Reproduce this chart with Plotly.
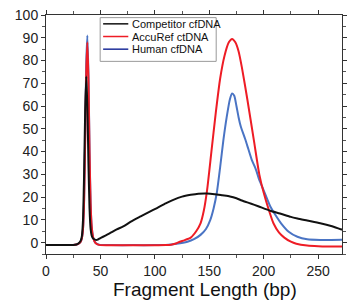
import plotly.graph_objects as go

# ---- data ----
competitor_x = [0, 10, 20, 25, 28, 30, 32, 33, 34, 35, 36, 37, 38, 39, 40, 41, 42, 43, 45, 47,
                50, 55, 60, 65, 71, 78, 87, 95, 102, 110, 117, 125, 133, 140, 148, 155, 162,
                169, 175, 180, 188, 195, 206, 215, 225, 231, 240, 252, 262, 272, 275]
competitor_y = [-1, -1, -1, -1, -0.8, -0.3, 1, 3, 10, 30, 58, 73, 60, 35, 15, 6, 3, 2, 1.3, 1.2,
                2, 3.2, 4.5, 5.8, 7.1, 9.2, 11.5, 13.5, 15.2, 17.2, 18.8, 20.2, 21, 21.5, 21.6,
                21.3, 20.8, 20.3, 19.5, 18.5, 17.2, 16, 14, 12.8, 11.3, 10.6, 9.7, 8.5, 7.3, 5.7, 5.3]

accuref_x = [0, 10, 20, 25, 28, 30, 32, 33, 34, 35, 36, 37, 38, 39, 40, 41, 42, 43, 44, 45, 46,
             48, 50, 60, 80, 100, 110, 115, 120, 123, 127, 133, 138, 142, 145, 148, 152, 156,
             160, 164, 168, 171, 174, 177, 180, 185, 191, 196, 200, 205, 209, 214, 219, 225,
             230, 240, 250, 260, 275]
accuref_y = [-1, -1, -1, -1, -0.8, -0.5, 0.5, 2, 6, 18, 45, 75, 88, 72, 40, 17, 7, 3, 1.2, 0.2, -0.4,
             -0.9, -1.1, -1.2, -1.2, -1.2, -1.1, -0.9, -0.3, 0.4, 1, 2.2, 5, 8.5, 14, 23, 40, 57,
             72, 82, 88, 89.5, 88, 84, 77, 63, 45, 30, 22, 14, 8.5, 4.5, 2.2, 0.4,
             -0.5, -1.3, -1.6, -1.7, -1.7]

human_x = [0, 10, 20, 25, 28, 30, 32, 33, 34, 35, 36, 37, 38, 39, 40, 41, 42, 43, 44, 45, 46,
           48, 50, 60, 80, 100, 110, 120, 130, 136, 142, 147, 151, 154, 157, 160, 163, 166,
           169, 171, 173, 175, 177, 179, 183, 186, 189, 193, 196, 200, 206, 211, 216, 223,
           231, 240, 252, 262, 275]
human_y = [-1, -1, -1, -1, -0.8, -0.5, 0.5, 2, 6, 19, 48, 79, 91, 74, 41, 17, 7, 3, 1.2, 0.2, -0.3,
           -0.8, -1, -1.1, -1.1, -1.1, -1, -0.5, 0.4, 1.5, 3.4, 6, 10, 15, 22, 33, 45, 55,
           63, 65.5, 64.5, 60, 55, 51, 45.5, 41, 36.5, 32, 27.5, 23, 16, 12, 8.5, 4.8,
           2.6, 1.5, 1.2, 1.2, 1.3]

series_names = ["Competitor cfDNA", "AccuRef ctDNA", "Human cfDNA"]
series_colors = ["#111111", "#ee1c25", "#4a74c4"]
legend_colors = ["#111111", "#ee1c25", "#1f2f9a"]

x_ticks = [0, 50, 100, 150, 200, 250]
y_ticks = [0, 10, 20, 30, 40, 50, 60, 70, 80, 90, 100]
x_title = "Fragment Length (bp)"

FONT = "Liberation Sans, Arial"

fig = go.Figure()
order = [2, 1, 0]  # blue first, then red, then black on top
all_x = [competitor_x, accuref_x, human_x]
all_y = [competitor_y, accuref_y, human_y]
for i in order:
    fig.add_trace(go.Scatter(x=all_x[i], y=all_y[i], mode="lines", name=series_names[i],
                             line=dict(color=series_colors[i], width=2, shape="spline",
                                       smoothing=0.6),
                             showlegend=False))

axis_common = dict(showgrid=False, zeroline=False, showline=True, linecolor="#333333",
                   linewidth=1, mirror="allticks", ticks="outside", ticklen=4,
                   tickcolor="#333333", automargin=False,
                   tickfont=dict(family=FONT, size=14, color="#222222"))

fig.update_xaxes(range=[0, 272], tickvals=x_ticks, **axis_common,
                 minor=dict(ticks="outside", ticklen=3, dtick=25, tickcolor="#555555"))
fig.update_yaxes(range=[-5, 100], tickvals=y_ticks, **axis_common,
                 minor=dict(ticks="outside", ticklen=3, dtick=5, tickcolor="#555555"))

# x-axis title placed as annotation (slightly right of centre, as in reference)
fig.add_annotation(xref="paper", yref="paper", x=0.537, y=-0.147, text=x_title,
                   showarrow=False, xanchor="center", yanchor="middle",
                   font=dict(family=FONT, size=19, color="#111111"))

# legend box (drawn in paper coordinates)
lx0, lx1, ly0, ly1 = 0.183, 0.575, 0.806, 0.989
fig.add_shape(type="rect", xref="paper", yref="paper", x0=lx0, x1=lx1, y0=ly0, y1=ly1,
              line=dict(color="#999999", width=1), fillcolor="white", layer="above")
entry_y = [0.963, 0.910, 0.857]
for name, col, ey in zip(series_names, legend_colors, entry_y):
    fig.add_shape(type="line", xref="paper", yref="paper", x0=0.193, x1=0.278, y0=ey, y1=ey,
                  line=dict(color=col, width=1.5), layer="above")
    fig.add_annotation(xref="paper", yref="paper", x=0.284, y=ey, text=name, showarrow=False,
                       xanchor="left", yanchor="middle",
                       font=dict(family=FONT, size=11, color="#111111"))

fig.update_layout(width=347, height=300, margin=dict(l=46, r=5, t=15, b=46),
                  plot_bgcolor="white", paper_bgcolor="white", showlegend=False)

fig.write_html("out.html", config={"displayModeBar": False},
               post_script="document.body.style.margin='0px';")
